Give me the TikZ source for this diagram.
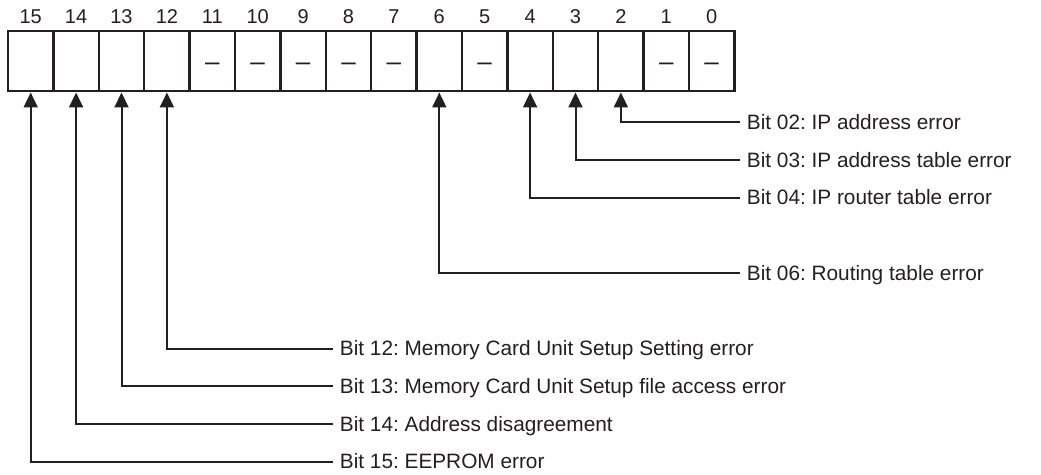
\documentclass[tikz,border=0pt]{standalone}
\usepackage{fontspec}
\setmainfont{Liberation Sans}
\usetikzlibrary{positioning,arrows.meta}
\definecolor{ink}{HTML}{231F20}
\frenchspacing

\begin{document}
\begin{tikzpicture}[x=0.5pt,y=-0.5pt, color=ink,
  bitcell/.style={rectangle, draw, line width=1.2pt, minimum width=22.7pt, minimum height=30pt, inner sep=0pt},
  bitnum/.style={inner sep=0pt, font=\fontsize{10}{12}\selectfont},
  unused/.style={inner sep=0pt, yshift=-2.5pt, font=\fontsize{13}{14}\selectfont},
  errlabel/.style={anchor=west, inner xsep=3.25pt, inner ysep=0pt, text height=7.1pt, text depth=0pt, font=\fontsize{10.4}{12}\selectfont},
  pointer/.style={-{Triangle[length=7.5pt,width=7pt]}, line width=1pt}]

\useasboundingbox (0,0) rectangle (1041,475);

% Register cells
\foreach \b in {0,...,15}
  \node (c\b) [bitcell] at ({8+45.4*(15.5-\b)},61.3) {};

% Bit numbers
\foreach \b in {0,...,15}
  \node (n\b) [bitnum, above=3.2pt of c\b] {\b};

% Unused bits
\foreach \b in {11,10,9,8,7,5,1,0}
  \node (d\b) [unused] at (c\b) {–};

% Error labels
\node (e02) [errlabel] at (740,122.5) {Bit 02: IP address error};
\node (e03) [errlabel] at (740,160.2) {Bit 03: IP address table error};
\node (e04) [errlabel] at (740,197.9) {Bit 04: IP router table error};
\node (e06) [errlabel] at (740,273.3) {Bit 06: Routing table error};
\node (e12) [errlabel] at (333,348.7) {Bit 12: Memory Card Unit Setup Setting error};
\node (e13) [errlabel] at (333,386.4) {Bit 13: Memory Card Unit Setup file access error};
\node (e14) [errlabel] at (333,424.1) {Bit 14: Address disagreement};
\node (e15) [errlabel] at (333,461.8) {Bit 15: EEPROM error};

% Pointers
\foreach \e/\b in {02/2,03/3,04/4,06/6,12/12,13/13,14/14,15/15}
  \draw[pointer] (e\e.west) -| (c\b.south);
\end{tikzpicture}
\end{document}
